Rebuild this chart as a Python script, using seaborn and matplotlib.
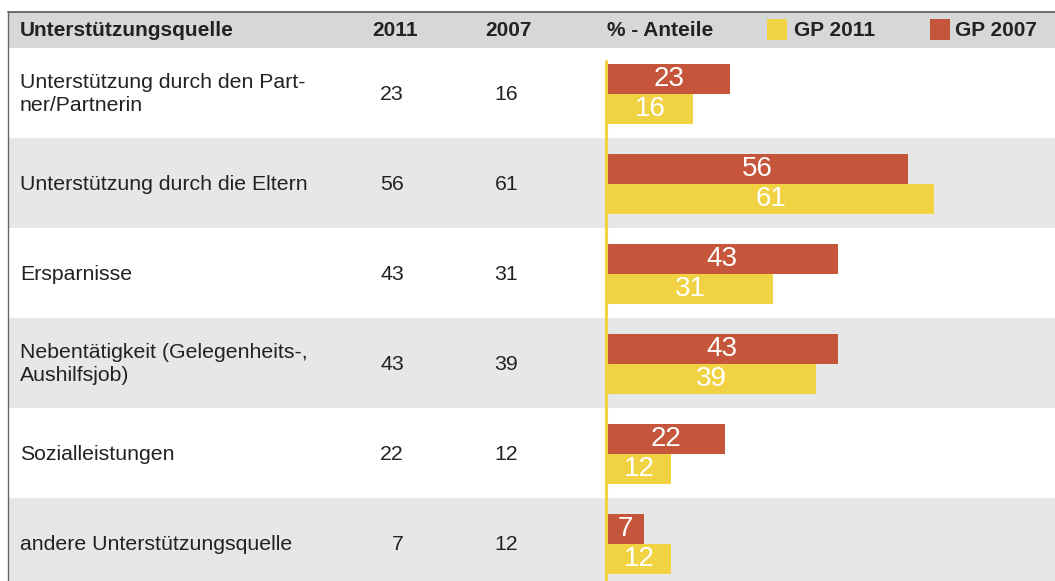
import matplotlib
matplotlib.use("Agg")
import matplotlib.pyplot as plt
from matplotlib.patches import Rectangle
import seaborn as sns
import pandas as pd

# table content
sources = [
    "Unterstützung durch den Part-\nner/Partnerin",
    "Unterstützung durch die Eltern",
    "Ersparnisse",
    "Nebentätigkeit (Gelegenheits-,\nAushilfsjob)",
    "Sozialleistungen",
    "andere Unterstützungsquelle",
]
share_2011 = [23, 56, 43, 43, 22, 7]
share_2007 = [16, 61, 31, 39, 12, 12]
# bar series as drawn: red bar on top, yellow bar below
bar_series = ["GP 2007", "GP 2011"]
bar_values = {"GP 2007": share_2011, "GP 2011": share_2007}

RED = "#c5553b"
YELLOW = "#f0d243"
ROW_GRAY = "#e6e7e7"
HEAD_GRAY = "#d6d7d8"
TXT = "#222222"

rows = []
for name in bar_series:
    for i, v in enumerate(bar_values[name]):
        rows.append({"cat": str(i), "series": name, "value": v})
df = pd.DataFrame(rows)

sns.set_style("white")
plt.rcParams["font.family"] = ["Liberation Sans", "DejaVu Sans"]

W, H = 1055, 581
fig = plt.figure(figsize=(W / 100, H / 100), dpi=100)

# background / table axes in pixel coords
bg = fig.add_axes([0, 0, 1, 1])
bg.set_xlim(0, W)
bg.set_ylim(H, 0)
bg.axis("off")

row_top, row_h = 48, 90
bg.add_patch(Rectangle((8, 12), W - 8, row_top - 12, color=HEAD_GRAY, lw=0))
bg.plot([8, W], [11.5, 11.5], color="#555555", lw=1.2)
bg.plot([8, 8], [11, H], color="#666666", lw=1.0)
fs = 15.3
for i in range(len(sources)):
    y0 = row_top + i * row_h
    if i % 2 == 1:
        bg.add_patch(Rectangle((9, y0), W - 9, row_h, color=ROW_GRAY, lw=0))
    yc = y0 + row_h / 2 + 1
    bg.text(20, yc, sources[i], ha="left", va="center", fontsize=fs,
            color=TXT, linespacing=1.3)
    bg.text(404, yc, str(share_2011[i]), ha="right", va="center", fontsize=fs, color=TXT)
    bg.text(518, yc, str(share_2007[i]), ha="right", va="center", fontsize=fs, color=TXT)

hy = 30
hkw = dict(va="center", fontsize=15, fontweight="bold", color=TXT)
bg.text(20, hy, "Unterstützungsquelle", ha="left", **hkw)
bg.text(395, hy, "2011", ha="center", **hkw)
bg.text(508, hy, "2007", ha="center", **hkw)
bg.text(607, hy, "% - Anteile", ha="left", **hkw)
bg.add_patch(Rectangle((767, 19), 20, 21, color=YELLOW, lw=0))
bg.text(794, hy, "GP 2011", ha="left", **hkw)
bg.add_patch(Rectangle((930, 19), 20, 21, color=RED, lw=0))
bg.text(955, hy, "GP 2007", ha="left", **hkw)

# bar axes
px_per_unit = 5.37
ax_left = 605
ax = fig.add_axes([ax_left / W, 0, (W - ax_left) / W, (H - row_top) / H])
ax.patch.set_alpha(0)
sns.barplot(data=df, y="cat", x="value", hue="series", hue_order=bar_series,
            palette=[RED, YELLOW], orient="h", width=0.667, dodge=True,
            saturation=1, legend=False, ax=ax, linewidth=0)
ax.set_xlim(-0.35, -0.35 + (W - ax_left) / px_per_unit)
ax.set_ylim((H - 94) / row_h, (row_top - 94) / row_h)
for c in ax.containers:
    ax.bar_label(c, label_type="center", color="white", fontsize=20)
ax.axvline(-0.17, ymin=0, ymax=(H - 61) / (H - row_top), color=YELLOW, lw=2.2)
ax.set_xlabel("")
ax.set_ylabel("")
ax.set_xticks([])
ax.set_yticks([])
for s in ax.spines.values():
    s.set_visible(False)

fig.savefig("out.png", dpi=100)
